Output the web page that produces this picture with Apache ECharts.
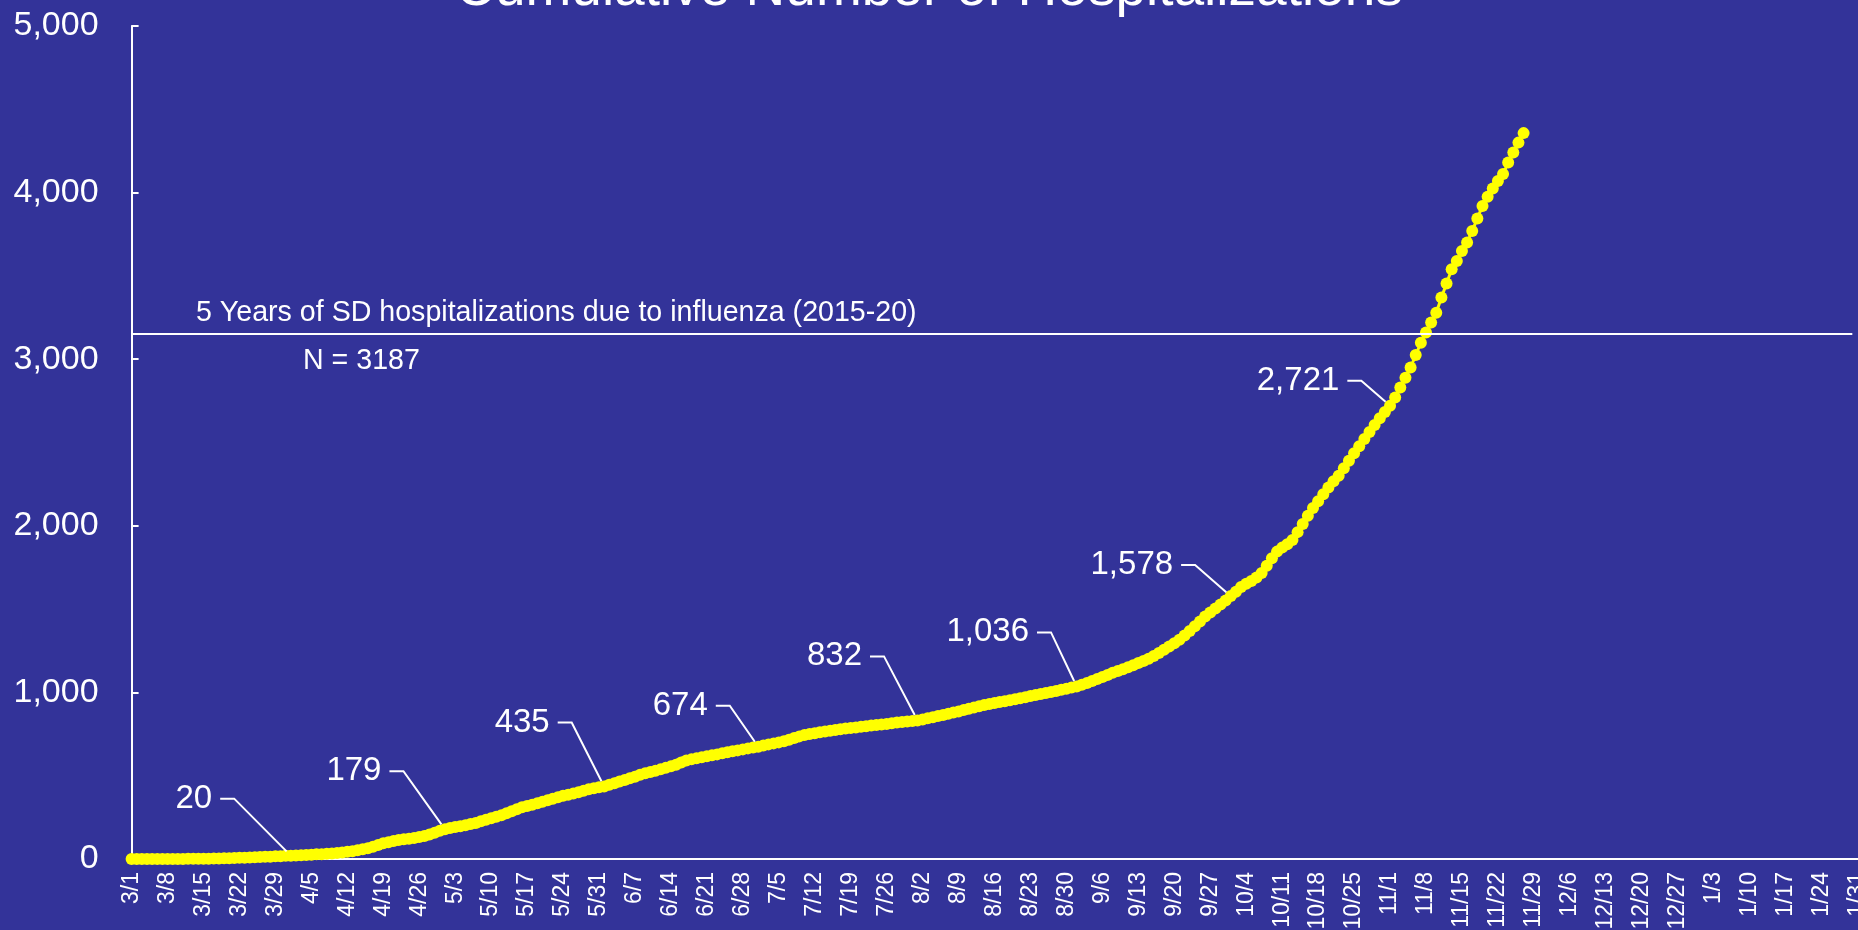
<!DOCTYPE html>
<html>
<head>
<meta charset="utf-8">
<script src="https://cdn.jsdelivr.net/npm/echarts/dist/echarts.min.js"></script>
<style>
html,body{margin:0;padding:0;background:#333399;overflow:hidden;}
#chart{width:1858px;height:930px;}
</style>
</head>
<body>
<div id="chart"></div>
<script>
// ---- Data ----
const titleText = 'Cumulative Number of Hospitalizations';
const startDate = [2020, 2, 1];     // 3/1/2020
const axisDays = 338;               // 3/1 .. 2/1
const yTicks = [0, 1000, 2000, 3000, 4000, 5000];

// cumulative hospitalizations, one value per day starting 3/1
const marValues = [0,0,0,0,0,0,0,0,0,0, 0,1,1,1,2,2,3,3,4,5, 6,7,8,9,10,12,13,14,16,17,19];
const aprValues = [20,21,23,24,26,28,29,31,33,36, 39,43,47,52,58,65,74,84,94,101, 108,114,118,121,126,132,138,147,158,169];
const mayValues = [179,186,192,197,203,210,216,226,236,245, 254,262,274,286,298,310,318,326,334,343, 352,361,370,380,386,393,401,410,418,424,430];
const junValues = [435,446,455,465,474,484,494,505,514,522, 530,538,547,556,566,579,591,598,604,610, 616,622,628,635,641,647,652,658,664,669];
const julValues = [674,681,688,694,700,707,716,726,736,745, 750,755,761,766,770,775,779,783,787,790, 794,797,801,804,808,811,815,819,823,826,829];
const augValues = [832,838,845,851,858,865,872,879,886,894, 902,910,917,925,930,936,942,947,953,959, 965,971,978,984,991,997,1003,1009,1016,1022,1029];
const sepValues = [1036,1046,1057,1069,1081,1093,1105,1118,1128,1139, 1151,1163,1176,1189,1202,1219,1237,1256,1275,1295, 1316,1341,1369,1397,1426,1456,1480,1503,1527,1552];
const octValues = [1578,1604,1632,1652,1668,1690,1717,1760,1805,1845, 1869,1889,1915,1962,2011,2060,2107,2148,2189,2230, 2268,2300,2345,2390,2435,2478,2521,2563,2605,2645,2683];
const novValues = [2721,2770,2830,2889,2950,3025,3099,3160,3220,3279, 3370,3455,3540,3590,3650,3700,3770,3845,3920,3975, 4025,4070,4111,4180,4241,4300,4357];

// labelled points
const labelDates  = ['4/1','5/1','6/1','7/1','8/1','9/1','10/1','11/1'];
const labelValues = [20,179,435,674,832,1036,1578,2721];

// reference line
const refValue = 3150;
const refStart = '3/1';
const refEnd = '1/30';
const refText1 = '5 Years of SD hospitalizations due to influenza (2015-20)';
const refText2 = 'N = 3187';

// ---- Build ----
const categories = [];
for (let i = 0; i < axisDays; i++) {
  const d = new Date(Date.UTC(startDate[0], startDate[1], startDate[2]) + i * 86400000);
  categories.push((d.getUTCMonth() + 1) + '/' + d.getUTCDate());
}
const values = [].concat(marValues, aprValues, mayValues, junValues, julValues,
                         augValues, sepValues, octValues, novValues);

// label offsets (layout only), in px relative to the point
const labelOffsets = [[-97,-57],[-91,-58],[-82,-64],[-78,-41],[-83,-64],[-89,-54],[-99,-31],[-92,-25]];

const FONT = '"Liberation Sans", Arial, sans-serif';
const fmt = v => Number(v).toLocaleString('en-US');

const chart = echarts.init(document.getElementById('chart'), null, {renderer: 'canvas'});
chart.setOption({
  backgroundColor: '#333399',
  animation: false,
  textStyle: {fontFamily: FONT},
  title: {
    text: titleText,
    left: 'center',
    top: -43,
    textStyle: {color: '#ffffff', fontSize: 55, fontWeight: 'normal', fontFamily: FONT}
  },
  grid: {
    left: 131.6, top: 26, width: 1731, height: 833,
    containLabel: false, outerBoundsMode: 'none'
  },
  xAxis: {
    type: 'category',
    data: categories,
    boundaryGap: false,
    axisLine: {show: true, lineStyle: {color: '#ffffff', width: 2}},
    axisTick: {show: false},
    splitLine: {show: false},
    axisLabel: {
      interval: 6, rotate: 90, color: '#ffffff', fontSize: 23, margin: 13,
      fontFamily: FONT, hideOverlap: false
    }
  },
  yAxis: {
    type: 'value',
    min: yTicks[0], max: yTicks[yTicks.length - 1], interval: yTicks[1] - yTicks[0],
    axisLine: {show: true, lineStyle: {color: '#ffffff', width: 2}},
    axisTick: {show: true, inside: true, length: 7, lineStyle: {color: '#ffffff', width: 2}},
    splitLine: {show: false},
    axisLabel: {color: '#ffffff', fontSize: 34, margin: 33, fontFamily: FONT, formatter: fmt}
  },
  graphic: [
    {type: 'text', left: 196, top: 299, style: {text: refText1, fill: '#ffffff', fontSize: 28.6, fontFamily: FONT}},
    {type: 'text', left: 303, top: 347, style: {text: refText2, fill: '#ffffff', fontSize: 28.6, fontFamily: FONT}}
  ],
  series: [
    {
      type: 'line',
      data: values,
      symbol: 'circle',
      symbolSize: 12,
      showAllSymbol: true,
      lineStyle: {color: '#ffff00', width: 3},
      itemStyle: {color: '#ffff00'},
      z: 3,
      markLine: {
        silent: true,
        symbol: 'none',
        label: {show: false},
        lineStyle: {color: '#ffffff', width: 2, type: 'solid'},
        data: [[{coord: [refStart, refValue]}, {coord: [refEnd, refValue]}]]
      }
    },
    {
      type: 'scatter',
      data: labelDates.map((d, i) => [d, labelValues[i]]),
      symbol: 'circle',
      symbolSize: 12,
      itemStyle: {color: 'rgba(0,0,0,0)'},
      z: 4,
      label: {
        show: true,
        position: 'inside',
        color: '#ffffff',
        opacity: 1,
        textBorderWidth: 0,
        fontSize: 33,
        fontFamily: FONT,
        padding: [0, 8],
        backgroundColor: 'rgba(0,0,0,0)',
        formatter: p => fmt(p.value[1])
      },
      labelLine: {show: true, length2: 14, lineStyle: {color: '#ffffff', width: 2}},
      labelLayout: p => ({dx: labelOffsets[p.dataIndex][0], dy: labelOffsets[p.dataIndex][1]})
    }
  ]
});
</script>
</body>
</html>
